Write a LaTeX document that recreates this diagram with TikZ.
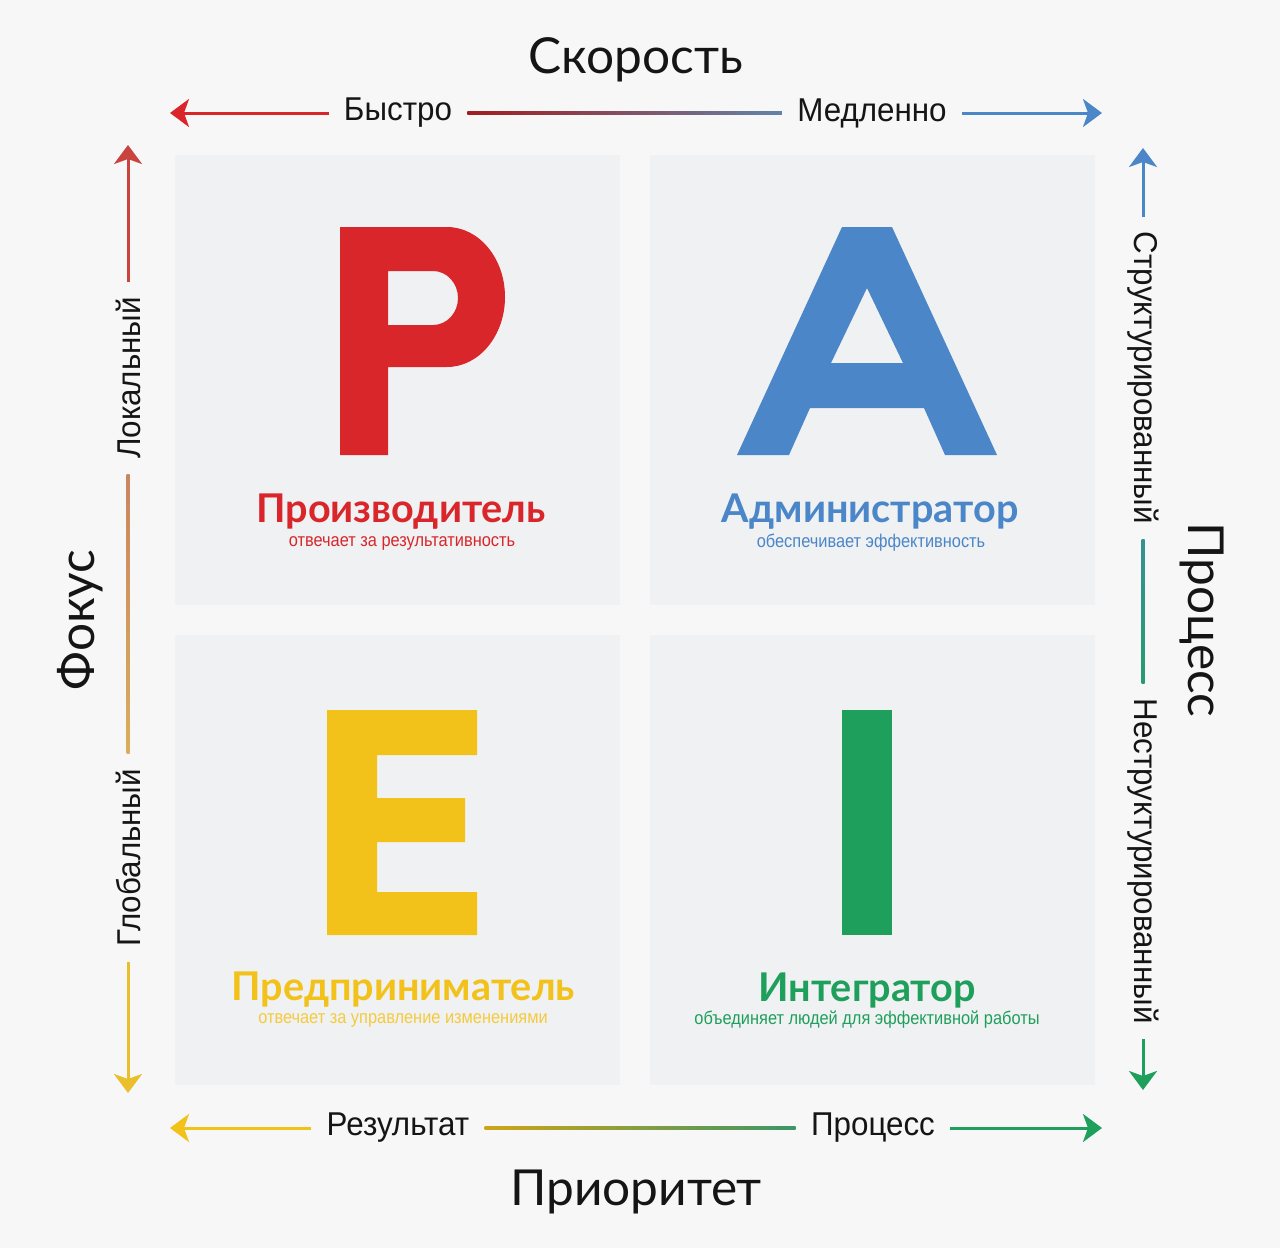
\documentclass[tikz,border=0pt]{standalone}
\usepackage{fontspec}
\setmainfont{Liberation Sans}
\newfontfamily\titlefont{Lato}
\newfontfamily\rolefont{Lato}
\newfontfamily\axisfont[FakeStretch=0.95]{Liberation Sans}
\newfontfamily\notefont[FakeStretch=0.89]{Liberation Sans}
\usetikzlibrary{arrows.meta,calc}

\definecolor{pRed}{HTML}{D8262B}
\definecolor{aBlue}{HTML}{4A86C8}
\definecolor{eYellow}{HTML}{F2C21B}
\definecolor{iGreen}{HTML}{1F9F5C}
\definecolor{pageBg}{HTML}{F7F7F7}
\definecolor{panelBg}{HTML}{F0F1F3}
\definecolor{inkBlack}{HTML}{151515}
\definecolor{focusTop}{HTML}{C9443E}
\definecolor{focusMidA}{HTML}{C98560}
\definecolor{focusMidB}{HTML}{D9AE5C}
\definecolor{focusLow}{HTML}{E9BF2C}

\begin{document}
\begin{tikzpicture}[x=0.5pt, y=-0.5pt,
    >={Stealth[length=9.5pt,width=14pt,inset=2.5pt]},
    axistitle/.style={font=\titlefont\fontsize{24.8}{28}\selectfont, text=inkBlack},
    axislabel/.style={font=\axisfont\fontsize{16.5}{19}\selectfont, text=inkBlack, inner xsep=7.5pt, inner ysep=0pt},
    axisline/.style={line width=1.5pt},
    panel/.style={fill=panelBg},
    role/.style={font=\rolefont\bfseries\fontsize{19.8}{23}\selectfont},
    note/.style={font=\notefont\fontsize{9.2}{11}\selectfont}]

    % Canvas of the whole picture
    \fill[pageBg] (0,0) rectangle (1280,1248);
    \useasboundingbox (0,0) rectangle (1280,1248);

    % The four panels
    \fill[panel] (175,155) rectangle (620,605);
    \fill[panel] (650,155) rectangle (1095,605);
    \fill[panel] (175,635) rectangle (620,1085);
    \fill[panel] (650,635) rectangle (1095,1085);

    % Big letter P
    \fill[pRed, even odd rule] (340,455) -- (340,227) -- (447,227)
        arc[start angle=-90, end angle=90, x radius=58, y radius=70] -- (388,367) -- (388,455) -- cycle
        (388,271) -- (433,271)
        arc[start angle=-90, end angle=90, x radius=25, y radius=27] -- (388,325) -- cycle;

    % Big letter A
    \fill[aBlue, even odd rule] (737,455) -- (842,227) -- (892,227) -- (997,455) -- (945,455)
        -- (924,408) -- (810,408) -- (789,455) -- cycle
        (867,288) -- (903,363) -- (831,363) -- cycle;

    % Big letter E
    \fill[eYellow] (327,710) -- (477,710) -- (477,755) -- (377,755) -- (377,798) -- (465,798)
        -- (465,842) -- (377,842) -- (377,892) -- (477,892) -- (477,935) -- (327,935) -- cycle;

    % Big letter I
    \fill[iGreen] (842,710) rectangle (892,935);

    % Role names under the letters
    \node[role, text=pRed] (producer) at (401,512) {Производитель};
    \node[note, text=pRed] (producerNote) at (402,543) {отвечает за результативность};
    \node[role, text=aBlue] (admin) at (870,512) {Администратор};
    \node[note, text=aBlue] (adminNote) at (871,543) {обеспечивает эффективность};
    \node[role, text=eYellow] (entre) at (403,990) {Предприниматель};
    \node[note, text=eYellow!85!white] (entreNote) at (403,1020) {отвечает за управление изменениями};
    \node[role, text=iGreen] (integr) at (867,990) {Интегратор};
    \node[note, text=iGreen] (integrNote) at (867,1020) {объединяет людей для эффективной работы};

    % Axis titles
    \node[axistitle] (speed) at (636,60) {Скорость};
    \node[axistitle] (priority) at (636,1192) {Приоритет};
    \node[axistitle, rotate=90] (focus) at (80,620) {Фокус};
    \node[axistitle, rotate=-90] (process) at (1202,620) {Процесс};

    % Top axis: speed
    \coordinate (fastTip) at (170,113);
    \coordinate (slowTip) at (1102,113);
    \node[axislabel] (fast) at (398,113) {Быстро};
    \node[axislabel] (slow) at (872,113) {Медленно};
    \draw[axisline, pRed, ->] (fast.west) -- (fastTip);
    \shade[left color=pRed!75!black, right color=aBlue!55!gray]
        ($(fast.east)+(0,-1.5)$) rectangle ($(slow.west)+(0,1.5)$);
    \draw[axisline, aBlue, ->] (slow.east) -- (slowTip);

    % Bottom axis: priority
    \coordinate (resultTip) at (170,1128);
    \coordinate (procTip) at (1102,1128);
    \node[axislabel] (result) at (398,1128) {Результат};
    \node[axislabel] (proc) at (873,1128) {Процесс};
    \draw[axisline, eYellow, ->] (result.west) -- (resultTip);
    \shade[left color=eYellow!85!black, right color=iGreen!70!gray]
        ($(result.east)+(0,-1.5)$) rectangle ($(proc.west)+(0,1.5)$);
    \draw[axisline, iGreen, ->] (proc.east) -- (procTip);

    % Left axis: focus
    \coordinate (localTip) at (128,145);
    \coordinate (globalTip) at (128,1093);
    \node[axislabel, rotate=90] (local) at (128,378) {Локальный};
    \node[axislabel, rotate=90] (global) at (128,858) {Глобальный};
    \draw[axisline, focusTop, ->] (local.east) -- (localTip);
    \shade[top color=focusMidA, bottom color=focusMidB]
        ($(local.west)+(-1.5,0)$) rectangle ($(global.east)+(1.5,0)$);
    \draw[axisline, focusLow, ->] (global.west) -- (globalTip);

    % Right axis: process
    \coordinate (structTip) at (1143,148);
    \coordinate (unstructTip) at (1143,1090);
    \node[axislabel, rotate=-90] (struct) at (1143,378) {Структурированный};
    \node[axislabel, rotate=-90] (unstruct) at (1143,861) {Неструктурированный};
    \draw[axisline, aBlue, ->] (struct.west) -- (structTip);
    \shade[top color=aBlue!50!iGreen, bottom color=iGreen!80!aBlue]
        ($(struct.east)+(-1.5,0)$) rectangle ($(unstruct.west)+(1.5,0)$);
    \draw[axisline, iGreen, ->] (unstruct.east) -- (unstructTip);

\end{tikzpicture}
\end{document}
